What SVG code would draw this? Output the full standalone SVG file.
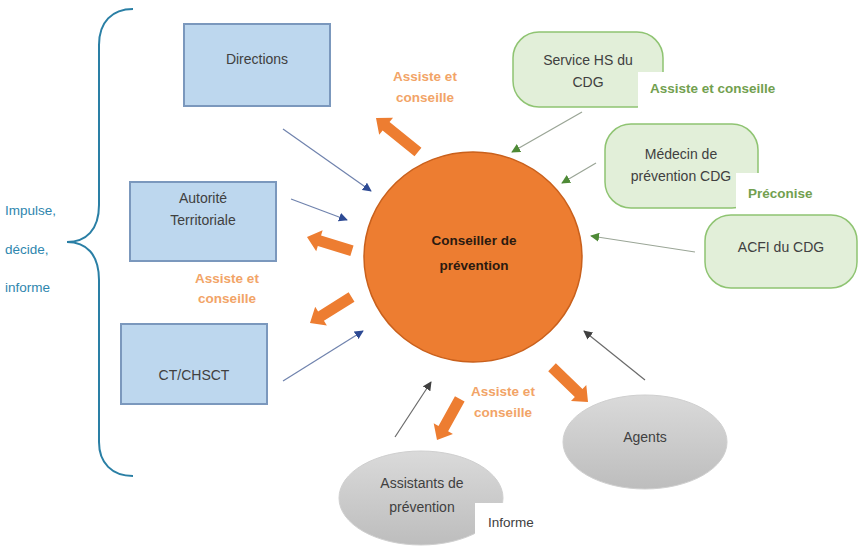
<svg xmlns="http://www.w3.org/2000/svg" width="863" height="549" viewBox="0 0 863 549">
<style>
text{font-family:"Liberation Sans",Arial,sans-serif;}
.box{fill:#bdd7ee;stroke:#7b98bd;stroke-width:2;}
.gbox{fill:#e2efd9;stroke:#8fc472;stroke-width:1.5;}
.ell{fill:url(#gray);stroke:#cfcfcf;stroke-width:1;}
.t{font-size:14px;fill:#404040;text-anchor:middle;}
.ol{font-size:13.5px;font-weight:bold;fill:#f2a467;text-anchor:middle;}
.gl{font-size:13.5px;font-weight:bold;fill:#72a04f;}
.bl{font-size:13.5px;fill:#2e86ae;}
.blue{stroke:#6f82ad;stroke-width:1.2;fill:none;marker-end:url(#mb);}
.green{stroke:#9aa596;stroke-width:1.2;fill:none;marker-end:url(#mg);}
.dark{stroke:#6a6a6a;stroke-width:1.2;fill:none;marker-end:url(#md);}
.blk{fill:#ed7d31;}
</style>
<defs>
<linearGradient id="gray" x1="0" y1="0" x2="0" y2="1">
<stop offset="0" stop-color="#dadada"/>
<stop offset="1" stop-color="#bdbdbd"/>
</linearGradient>
<marker id="mb" viewBox="0 0 10 10" refX="9" refY="5" markerWidth="9" markerHeight="9" markerUnits="userSpaceOnUse" orient="auto"><path d="M0,0 L10,5 L0,10 Z" fill="#2d4a94"/></marker>
<marker id="mg" viewBox="0 0 10 10" refX="9" refY="5" markerWidth="9" markerHeight="9" markerUnits="userSpaceOnUse" orient="auto"><path d="M0,0 L10,5 L0,10 Z" fill="#4e8a36"/></marker>
<marker id="md" viewBox="0 0 10 10" refX="9" refY="5" markerWidth="9" markerHeight="9" markerUnits="userSpaceOnUse" orient="auto"><path d="M0,0 L10,5 L0,10 Z" fill="#404040"/></marker>
</defs>
<rect width="863" height="549" fill="#ffffff"/>

<g id="brace">
<path d="M133,9 C112,9 99,22 99,45 L99,205 C99,230 86,242 67,242 C86,242 99,254 99,280 L99,442 C99,463 112,476 133,476" fill="none" stroke="#2a7fa5" stroke-width="2"/>
<text class="bl" x="5" y="215">Impulse,</text>
<text class="bl" x="5" y="254">décide,</text>
<text class="bl" x="5" y="292">informe</text>
</g>

<g id="directions">
<rect class="box" x="184" y="24" width="146" height="82"/>
<text class="t" x="257" y="64">Directions</text>
</g>
<g id="autorite">
<rect class="box" x="130" y="182" width="146" height="79"/>
<text class="t" x="203" y="203">Autorité</text>
<text class="t" x="203" y="225">Territoriale</text>
</g>
<g id="ctchsct">
<rect class="box" x="121" y="324" width="146" height="80"/>
<text class="t" x="194" y="380">CT/CHSCT</text>
</g>

<g id="conseiller">
<ellipse cx="473" cy="257" rx="109" ry="105" fill="#ed7d31" stroke="#c9601c" stroke-width="1.5"/>
<text x="474" y="245" style="font-size:13.5px;font-weight:bold;fill:#2b1a10;text-anchor:middle">Conseiller de</text>
<text x="474" y="270" style="font-size:13.5px;font-weight:bold;fill:#2b1a10;text-anchor:middle">prévention</text>
</g>

<g id="servicehs">
<rect class="gbox" x="513" y="32" width="150" height="75" rx="26"/>
<rect x="638" y="72" width="145" height="40" fill="#ffffff"/>
<text class="t" x="588" y="65">Service HS du</text>
<text class="t" x="588" y="87">CDG</text>
<text class="gl" x="650" y="93">Assiste et conseille</text>
</g>
<g id="medecin">
<rect class="gbox" x="605" y="124" width="153" height="84" rx="26"/>
<rect x="736" y="173" width="90" height="40" fill="#ffffff"/>
<text class="t" x="681" y="159">Médecin de</text>
<text class="t" x="681" y="181">prévention CDG</text>
<text class="gl" x="748" y="198">Préconise</text>
</g>
<g id="acfi">
<rect class="gbox" x="705" y="215" width="152" height="73" rx="26"/>
<text class="t" x="781" y="252">ACFI du CDG</text>
</g>

<g id="agents">
<ellipse class="ell" cx="645" cy="442" rx="82" ry="47"/>
<text class="t" x="645" y="442">Agents</text>
</g>
<g id="assistants">
<ellipse class="ell" cx="421" cy="498" rx="82" ry="47"/>
<rect x="475" y="503" width="80" height="40" fill="#ffffff"/>
<text class="t" x="422" y="488">Assistants de</text>
<text class="t" x="422" y="512">prévention</text>
<text x="488" y="527" style="font-size:13.5px;fill:#404040">Informe</text>
</g>

<g id="connectors">
<line class="blue" x1="283" y1="129" x2="371" y2="191"/>
<line class="blue" x1="291" y1="199" x2="347" y2="220"/>
<line class="blue" x1="283" y1="381" x2="363" y2="331"/>
<line class="green" x1="582" y1="112" x2="512" y2="152"/>
<line class="green" x1="596" y1="163" x2="562" y2="183"/>
<line class="green" x1="695" y1="252" x2="591" y2="236"/>
<line class="dark" x1="645" y1="380" x2="584" y2="331"/>
<line class="dark" x1="395" y1="437" x2="431" y2="382"/>
<g transform="translate(376,118) rotate(219)"><polygon class="blk" points="0,0 -13,-11 -13,-5.5 -54,-5.5 -54,5.5 -13,5.5 -13,11"/></g>
<g transform="translate(307,237) rotate(197)"><polygon class="blk" points="0,0 -13,-11 -13,-5.5 -47,-5.5 -47,5.5 -13,5.5 -13,11"/></g>
<g transform="translate(310,323) rotate(148)"><polygon class="blk" points="0,0 -13,-11 -13,-5.5 -49,-5.5 -49,5.5 -13,5.5 -13,11"/></g>
<g transform="translate(437,440) rotate(119)"><polygon class="blk" points="0,0 -13,-11 -13,-5.5 -47,-5.5 -47,5.5 -13,5.5 -13,11"/></g>
<g transform="translate(588,402) rotate(44)"><polygon class="blk" points="0,0 -13,-11 -13,-5.5 -50,-5.5 -50,5.5 -13,5.5 -13,11"/></g>
</g>

<g id="labels">
<text class="ol" x="425" y="81">Assiste et</text>
<text class="ol" x="425" y="102">conseille</text>
<text class="ol" x="227" y="283">Assiste et</text>
<text class="ol" x="227" y="303">conseille</text>
<text class="ol" x="503" y="396">Assiste et</text>
<text class="ol" x="503" y="417">conseille</text>
</g>
</svg>
